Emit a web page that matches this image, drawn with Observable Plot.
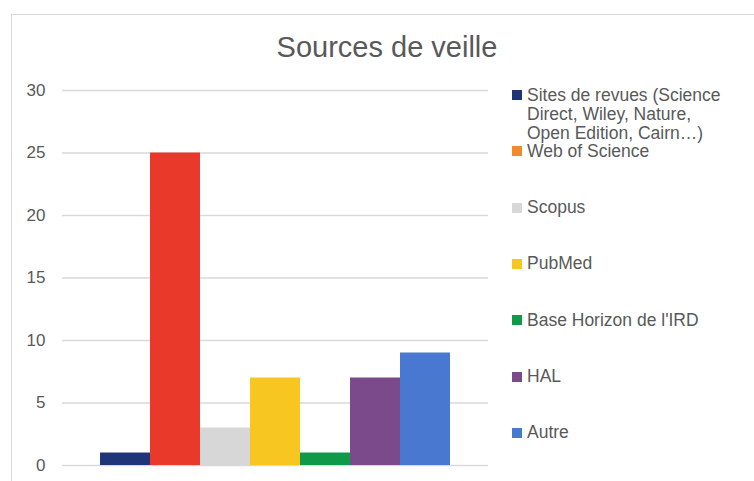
<!DOCTYPE html>
<html>
<head>
<meta charset="utf-8">
<script src="https://cdn.jsdelivr.net/npm/d3@7"></script>
<script src="https://cdn.jsdelivr.net/npm/@observablehq/plot@0.6"></script>
<style>
  html, body { margin: 0; padding: 0; background: #fff; }
  #wrap { position: relative; width: 754px; height: 481px; overflow: hidden; font-family: "Liberation Sans", Arial, sans-serif; color: #595959; }
  #frame { position: absolute; left: 11px; top: 14px; width: 800px; height: 500px; border-left: 1.5px solid #d9d9d9; border-top: 1.5px solid #d9d9d9; }
  #title { position: absolute; left: 0; width: 774px; top: 30px; text-align: center; font-size: 29px; line-height: 34px; }
  #chart { position: absolute; left: 0; top: 0; }
  .leg { position: absolute; left: 512px; width: 230px; font-size: 17.5px; line-height: 19.3px; }
  .leg .sw { position: absolute; left: 0; top: 4.5px; width: 10px; height: 10px; }
  .leg .tx { position: absolute; left: 15px; top: 0; width: 200px; white-space: normal; }
</style>
</head>
<body>
<div id="wrap">
  <div id="frame"></div>
  <div id="chart"></div>
  <div id="title"></div>
</div>
<script>
const title = "Sources de veille";
const sources = [
  "Sites de revues (Science Direct, Wiley, Nature, Open Edition, Cairn…)",
  "Web of Science",
  "Scopus",
  "PubMed",
  "Base Horizon de l'IRD",
  "HAL",
  "Autre"
];
const values = [1, 25, 3, 7, 1, 7, 9];
const barColors = ["#1f3479", "#e8392a", "#d7d7d7", "#f8c621", "#0e9a48", "#7b4a8b", "#4878d0"];
const legendColors = ["#1f3479", "#f08a2c", "#d7d7d7", "#f8c621", "#0e9a48", "#7b4a8b", "#4878d0"];
const yTicks = [0, 5, 10, 15, 20, 25, 30];

const data = sources.map((s, i) => ({source: s, value: values[i]}));

document.getElementById("title").textContent = title;

const chart = Plot.plot({
  width: 754,
  height: 481,
  marginLeft: 62,
  marginRight: 266,
  marginTop: 90,
  marginBottom: 16,
  style: {fontFamily: "Liberation Sans, Arial, sans-serif", fontSize: "17px", color: "#595959", background: "transparent"},
  x: {domain: sources, paddingInner: 0, paddingOuter: 0.7, axis: null},
  y: {domain: [0, 30]},
  color: {domain: sources, range: barColors},
  marks: [
    Plot.gridY(yTicks, {stroke: "#d9d9d9", strokeOpacity: 1, strokeWidth: 1.5}),
    Plot.axisY(yTicks, {tickSize: 0, tickPadding: 17, fontSize: 17, fill: "#595959", label: null}),
    Plot.barY(data, {x: "source", y: "value", fill: "source"})
  ]
});
document.getElementById("chart").appendChild(chart);

// Legend
const wrap = document.getElementById("wrap");
const legTop0 = 85.5, legStep = 56.3;
sources.forEach((s, i) => {
  const d = document.createElement("div");
  d.className = "leg";
  d.style.top = (legTop0 + i * legStep) + "px";
  const sw = document.createElement("span");
  sw.className = "sw";
  sw.style.background = legendColors[i];
  const tx = document.createElement("span");
  tx.className = "tx";
  tx.textContent = s;
  d.appendChild(sw);
  d.appendChild(tx);
  wrap.appendChild(d);
});
</script>
</body>
</html>
